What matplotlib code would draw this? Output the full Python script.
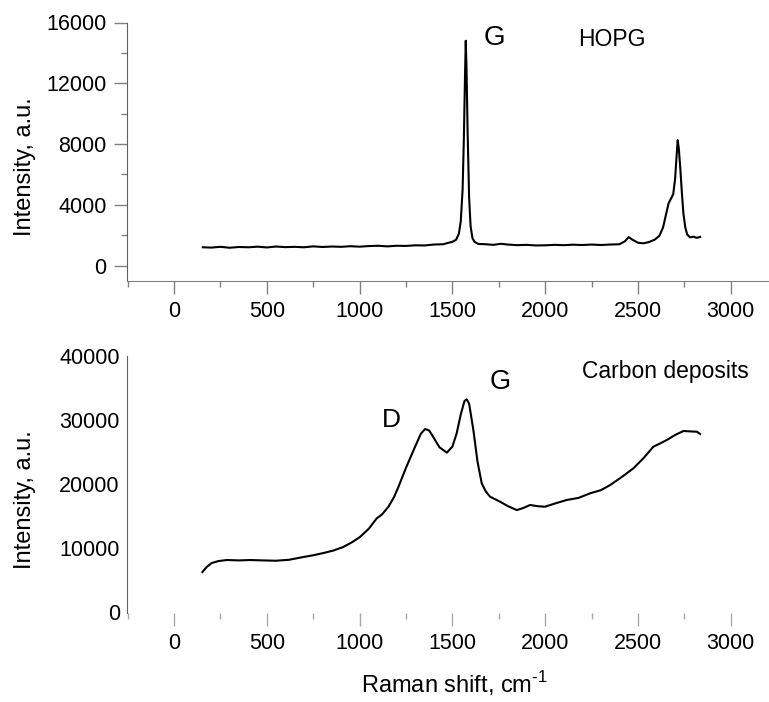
import matplotlib
matplotlib.use("Agg")
import matplotlib.pyplot as plt
from matplotlib.ticker import MultipleLocator

plt.rcParams["font.family"] = ["Liberation Sans", "DejaVu Sans"]
plt.rcParams["mathtext.fontset"] = "custom"
plt.rcParams["mathtext.rm"] = "Liberation Sans"

# HOPG spectrum
hopg_shift = [155, 200, 250, 300, 350, 400, 450, 500, 550, 600, 650, 700, 750, 800,
              850, 900, 950, 1000, 1050, 1100, 1150, 1200, 1250, 1300, 1350, 1400,
              1450, 1480, 1500, 1520, 1535, 1545, 1555, 1562, 1568, 1572, 1576, 1582,
              1590, 1598, 1608, 1620, 1640, 1680, 1720, 1760, 1800, 1850, 1900, 1950,
              2000, 2050, 2100, 2150, 2200, 2250, 2300, 2350, 2400, 2430, 2450, 2470,
              2500, 2530, 2560, 2590, 2615, 2635, 2650, 2665, 2680, 2690, 2700, 2708,
              2714, 2720, 2728, 2737, 2745, 2755, 2765, 2780, 2800, 2815, 2835]
hopg_int = [1200, 1180, 1230, 1170, 1220, 1200, 1240, 1190, 1250, 1210, 1230, 1200,
            1260, 1220, 1250, 1230, 1270, 1240, 1280, 1300, 1260, 1300, 1290, 1330,
            1320, 1380, 1400, 1500, 1560, 1700, 2100, 2900, 5000, 8500, 12500, 14800,
            13000, 8800, 4500, 2600, 1800, 1550, 1420, 1400, 1360, 1430, 1380, 1340,
            1360, 1320, 1330, 1360, 1340, 1370, 1350, 1380, 1350, 1380, 1400, 1600,
            1870, 1700, 1500, 1460, 1550, 1700, 1950, 2500, 3300, 4100, 4450, 4700,
            5700, 7200, 8250, 7700, 6400, 4700, 3400, 2500, 2050, 1850, 1900, 1820, 1880]

# carbon deposits spectrum
dep_shift = [153, 175, 203, 240, 284, 350, 410, 480, 550, 620, 697, 750, 805, 860,
             912, 960, 1002, 1050, 1092, 1120, 1155, 1185, 1209, 1250, 1299, 1330,
             1353, 1375, 1398, 1430, 1470, 1500, 1523, 1545, 1565, 1577, 1590, 1613,
             1635, 1658, 1680, 1703, 1757, 1800, 1847, 1880, 1919, 1960, 1999, 2050,
             2116, 2180, 2242, 2300, 2350, 2410, 2475, 2530, 2583, 2620, 2655, 2700,
             2745, 2790, 2817, 2835]
dep_int = [6240, 7000, 7640, 7950, 8110, 8050, 8110, 8050, 8000, 8150, 8580, 8850,
           9200, 9600, 10140, 10900, 11700, 13000, 14600, 15200, 16400, 17900, 19500,
           22500, 25780, 27800, 28540, 28300, 27240, 25700, 24850, 25800, 27860, 30800,
           32900, 33170, 32500, 28380, 23500, 20070, 18800, 17980, 17200, 16500, 15900,
           16200, 16690, 16500, 16420, 16900, 17470, 17800, 18510, 19000, 19800, 21000,
           22400, 24000, 25780, 26300, 26820, 27600, 28230, 28150, 28120, 27760]

W, H = 769, 702
fig = plt.figure(figsize=(W / 100, H / 100), dpi=100)

left = 126.7 / W
ax1 = fig.add_axes([left, 1 - 280.7 / H, 1 - left, (280.7 - 22.5) / H])
ax2 = fig.add_axes([left, 1 - 613 / H, 1 - left, (613 - 355.5) / H])

for ax in (ax1, ax2):
    ax.set_xlim(-255, 3206)
    ax.spines["top"].set_visible(False)
    ax.spines["right"].set_visible(False)
    ax.spines["left"].set_color("#606060")
    ax.spines["bottom"].set_color("#808080")
    ax.xaxis.set_major_locator(MultipleLocator(500))
    ax.xaxis.set_minor_locator(MultipleLocator(250))
    ax.tick_params(axis="both", which="major", direction="out", labelsize=15.5,
                   length=9.5, width=1.0, color="#808080", pad=5)
    ax.tick_params(axis="both", which="minor", direction="out", length=4.5,
                   width=1.0, color="#808080")
    ax.set_ylabel("Intensity, a.u.", fontsize=17)
    ax.yaxis.set_label_coords(-0.141, 0.44)

ax1.plot(hopg_shift, hopg_int, color="black", lw=1.5)
ax1.set_ylim(-1000, 16000)
ax1.set_yticks([0, 4000, 8000, 12000, 16000])
ax1.yaxis.set_minor_locator(MultipleLocator(2000))
ax1.text(1725, 14980, "G", fontsize=20, ha="center", va="center")
ax1.text(2360, 14910, "HOPG", fontsize=16.5, ha="center", va="center")

ax2.plot(dep_shift, dep_int, color="black", lw=1.5)
ax2.set_ylim(-150, 40000)
ax2.set_yticks([0, 10000, 20000, 30000, 40000])
ax2.spines["bottom"].set_visible(False)
ax2.tick_params(axis="y", which="both", length=0)
ax2.tick_params(axis="x", which="both", color="#a8a8a8")
ax2.text(1757, 35870, "G", fontsize=19.5, ha="center", va="center")
ax2.text(1169, 29940, "D", fontsize=19, ha="center", va="center")
ax2.text(2646, 37580, "Carbon deposits", fontsize=16.5, ha="center", va="center")
ax2.set_xlabel(r"Raman shift, cm$^{\text{-1}}$", fontsize=17)
ax2.xaxis.set_label_coords(0.51, -0.217)

fig.savefig("out.png", dpi=100)
